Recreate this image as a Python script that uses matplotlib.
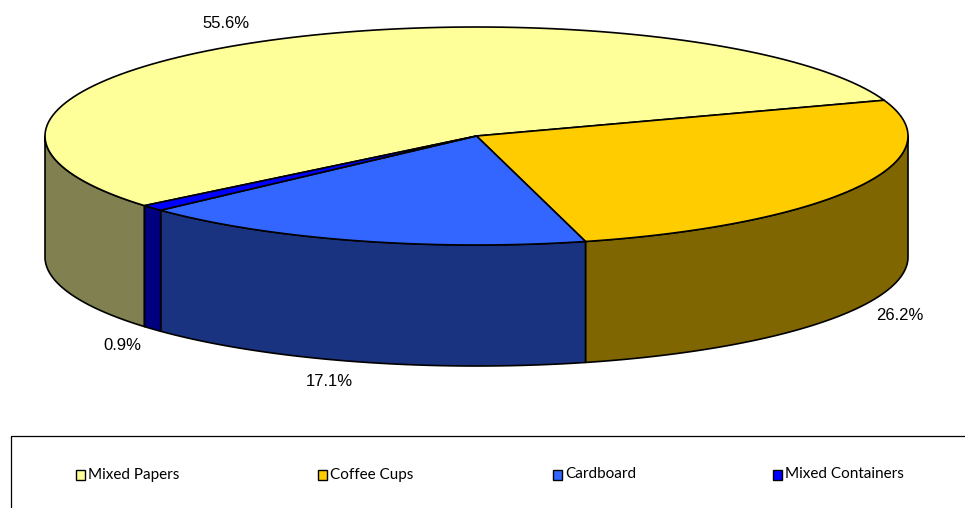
import numpy as np
import matplotlib.pyplot as plt
from matplotlib.patches import Polygon, Rectangle

# Waste composition shares (%)
categories = ["Mixed Papers", "Coffee Cups", "Cardboard", "Mixed Containers"]
shares = [55.6, 26.2, 17.1, 0.9]
label_text = ["55.6%", "26.2%", "17.1%", "0.9%"]

top_colors = ["#FFFF99", "#FFCC00", "#3366FF", "#0000FF"]
side_colors = ["#808050", "#806600", "#1A3380", "#000080"]

W, H = 965, 508
fig = plt.figure(figsize=(W / 100, H / 100), dpi=100)
ax = fig.add_axes([0, 0, 1, 1])
ax.set_xlim(0, W)
ax.set_ylim(H, 0)
ax.axis("off")

# pie geometry in pixel space
cx, cy = 476.5, 136.0
rx, ry = 431.5, 109.0
depth = 121.0
start = 219.7  # degrees, wedges run clockwise


def ellipse_pts(t0, t1, dy=0.0, n=120):
    t = np.radians(np.linspace(t0, t1, n))
    return np.column_stack([cx + rx * np.cos(t), cy - ry * np.sin(t) + dy])


total = sum(shares)
spans = [s / total * 360.0 for s in shares]
bounds = []
a = start
for sp in spans:
    bounds.append((a - sp, a))
    a -= sp

# side walls for the front half (180..360 deg)
for (lo, hi), sc in zip(bounds, side_colors):
    for shift in (0, 360, -360):
        l, h = max(lo + shift, 180), min(hi + shift, 360)
        if h > l:
            top = ellipse_pts(l, h)
            bot = ellipse_pts(h, l, dy=depth)
            ax.add_patch(Polygon(np.vstack([top, bot]), closed=True,
                                 facecolor=sc, edgecolor="black", lw=1.2,
                                 joinstyle="round"))

# top faces
for (lo, hi), tc in zip(bounds, top_colors):
    pts = np.vstack([[cx, cy], ellipse_pts(lo, hi)])
    ax.add_patch(Polygon(pts, closed=True, facecolor=tc, edgecolor="black",
                         lw=1.2, joinstyle="round"))

# percentage labels
label_pos = [(226, 23), (900, 315), (329, 382), (122, 346)]
for txt, (x, y) in zip(label_text, label_pos):
    ax.text(x, y, txt, ha="center", va="center", fontsize=12,
            family="Liberation Sans", color="black")

# legend frame and entries
ax.add_patch(Rectangle((10.5, 435.5), 1000, 100, facecolor="none",
                       edgecolor="black", lw=0.9))
legend_x = [76, 318, 553, 773]
for name, tc, x in zip(categories, top_colors, legend_x):
    ax.add_patch(Rectangle((x, 469.5), 9, 10, facecolor=tc,
                           edgecolor="black", lw=1.0))
    ax.text(x + 12, 474.5, name, ha="left", va="center", fontsize=11,
            family="Lato", color="black")

fig.savefig("out.png", dpi=100, facecolor="white")
